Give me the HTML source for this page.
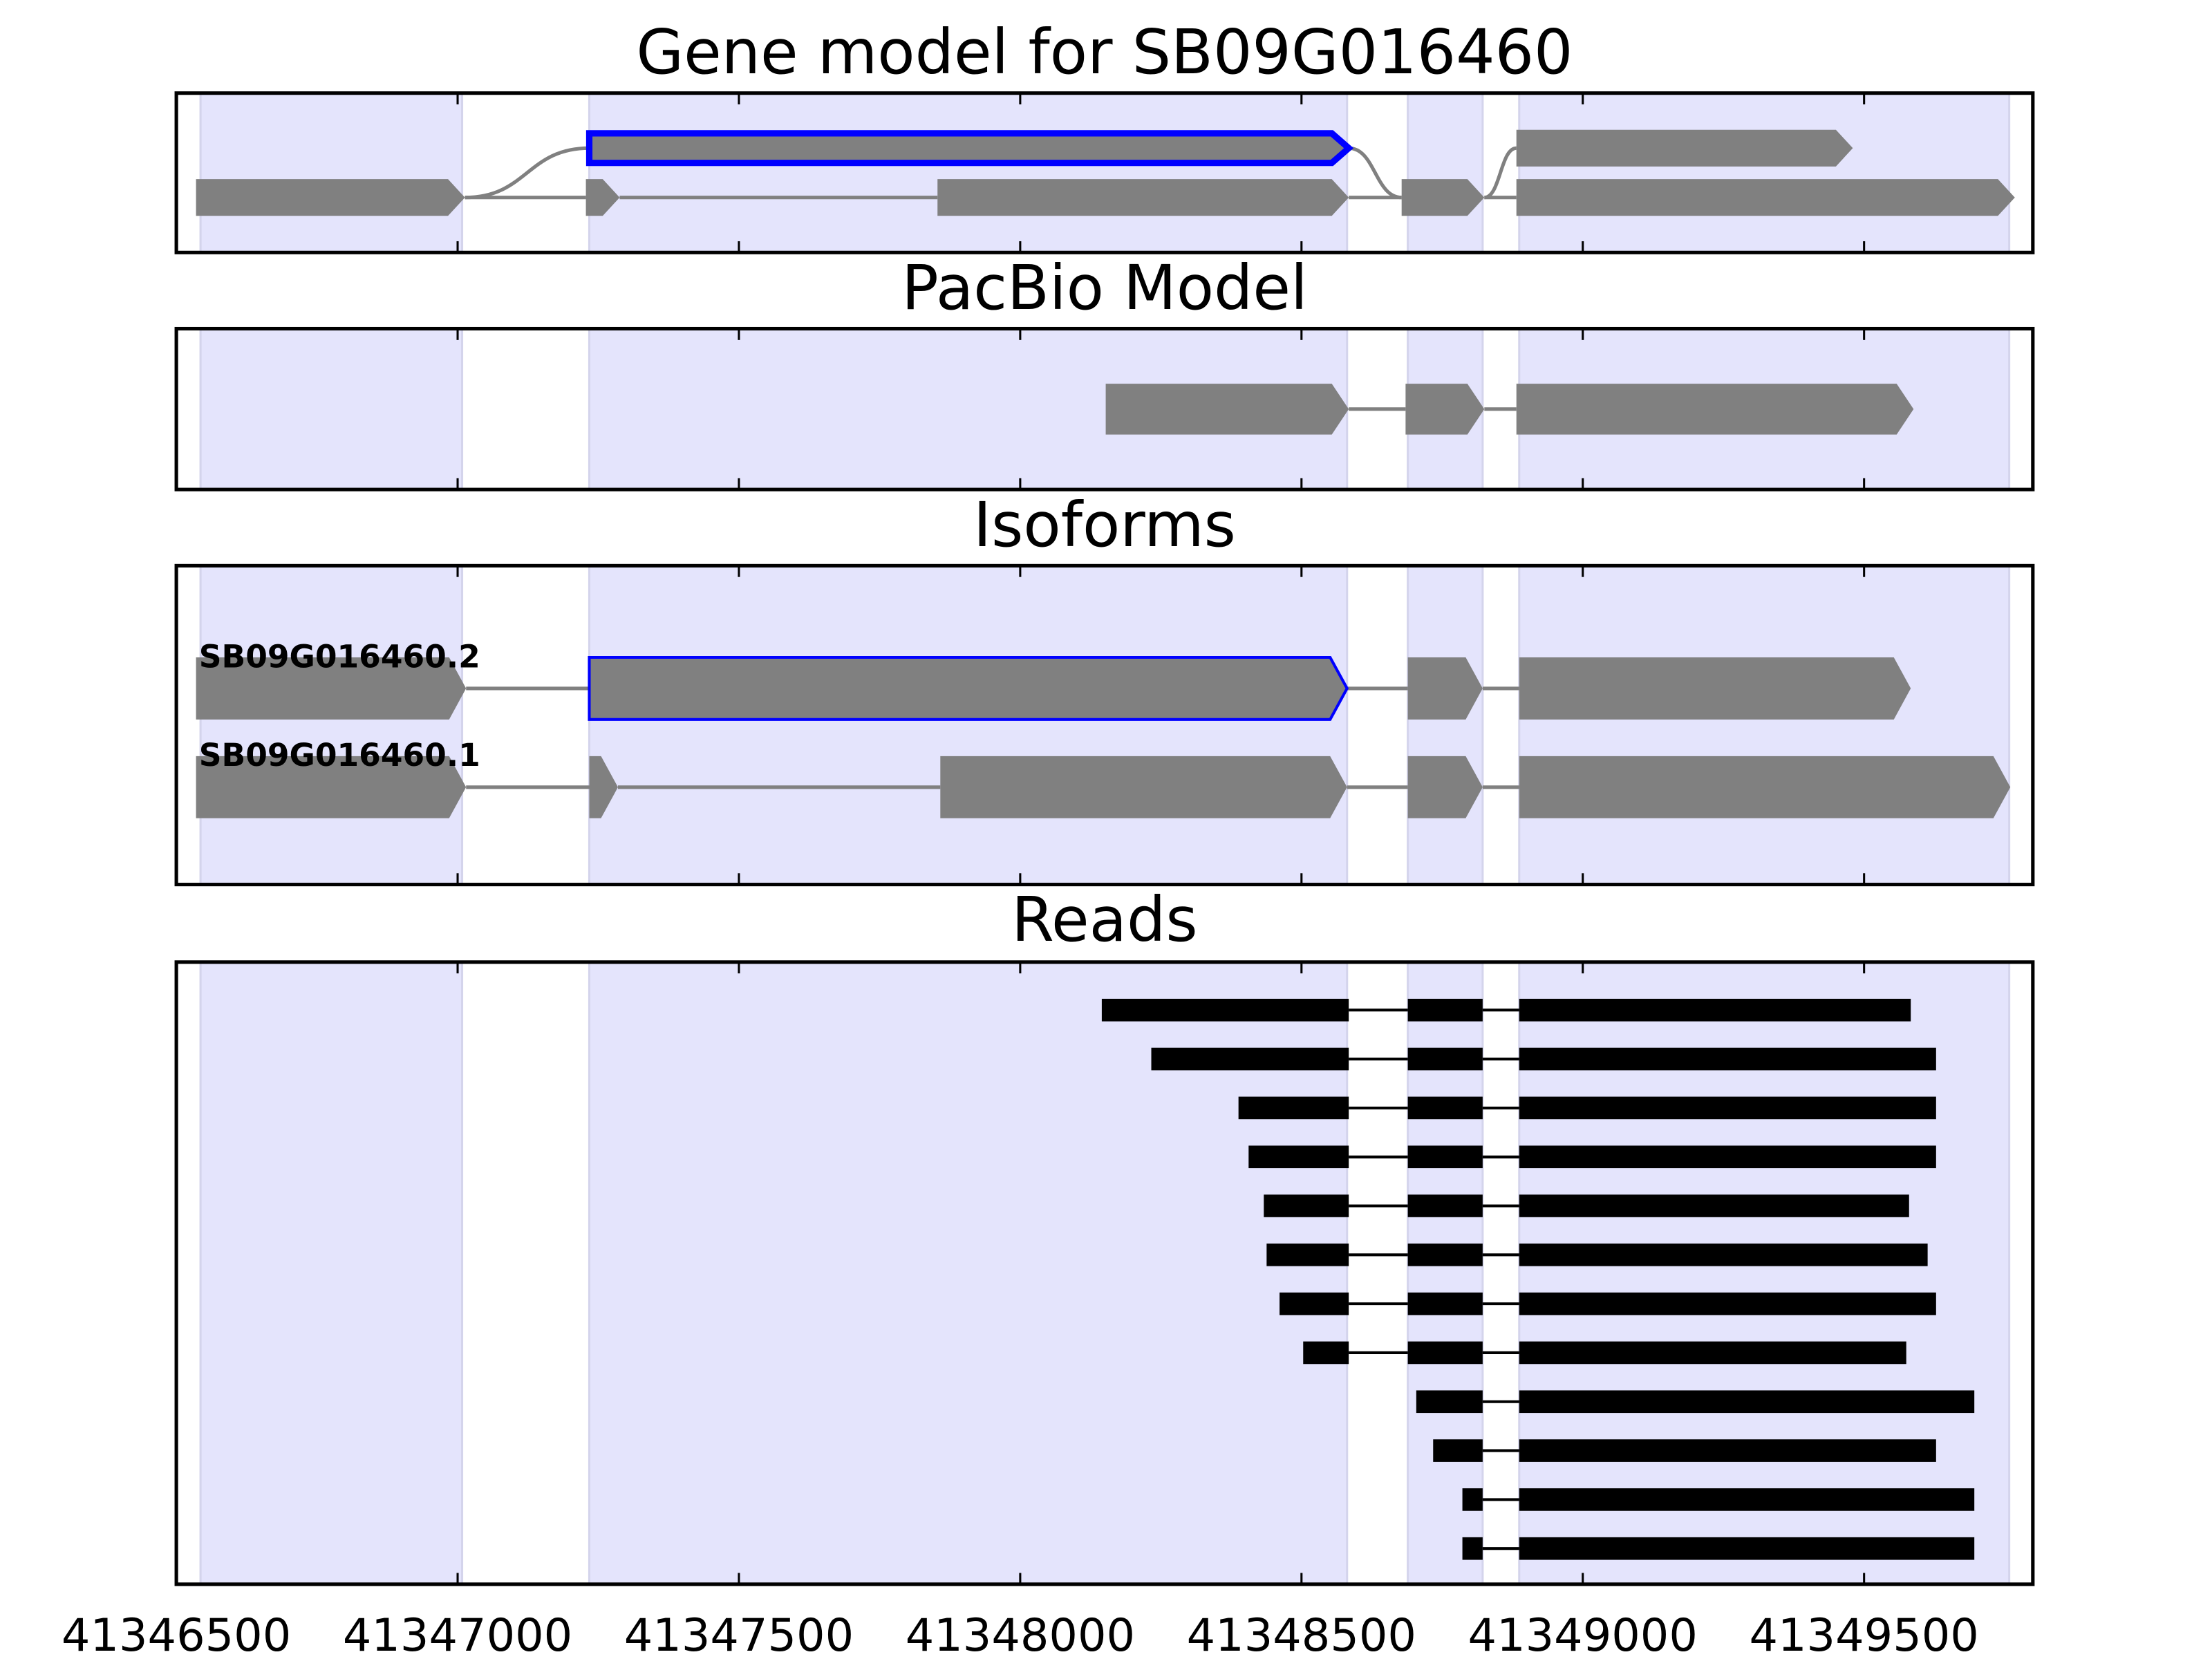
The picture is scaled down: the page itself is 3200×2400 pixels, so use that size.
<!DOCTYPE html>
<html><head><meta charset="utf-8"><style>html,body{margin:0;padding:0;background:#fff}svg{display:block}</style></head>
<body>
<svg id="chart" xmlns="http://www.w3.org/2000/svg" width="3200" height="2400" viewBox="0 0 1568 1176" font-family="DejaVu Sans, Liberation Sans, sans-serif"></svg>
<script>
const xTicks = [41346500, 41347000, 41347500, 41348000, 41348500, 41349000, 41349500];
const exonRegions = [[41346543, 41347008], [41347234, 41348581], [41348689, 41348822], [41348887, 41349758]];
// gene model rows: [start,end]
const modelBottom = [[41346535, 41347013], [41347228, 41347288], [41347853, 41348584], [41348678, 41348825], [41348882, 41349768]];
const modelTop = [[41347234, 41348584], [41348882, 41349480]];
const pacbio = [[41348152, 41348584], [41348685, 41348825], [41348882, 41349588]];
const iso2 = [[41346535, 41347015], [41347234, 41348581], [41348689, 41348822], [41348887, 41349583]];
const iso1 = [[41346535, 41347015], [41347234, 41347285], [41347858, 41348581], [41348689, 41348822], [41348887, 41349760]];
const readStarts = [41348145, 41348233, 41348388, 41348406, 41348433, 41348438, 41348461, 41348503, 41348704, 41348734, 41348786, 41348786];
const readEnds = [41349583, 41349628, 41349628, 41349628, 41349580, 41349613, 41349628, 41349575, 41349696, 41349628, 41349696, 41349696];
const readJunctions = [41348584, 41348689, 41348822, 41348887];

const svg = document.getElementById('chart');
const NS = 'http://www.w3.org/2000/svg';
const X0 = 125, X1 = 1441, D0 = 41346500, D1 = 41349800;
const sx = v => X0 + (v - D0) / (D1 - D0) * (X1 - X0);
function el(tag, attrs, parent) {
  const e = document.createElementNS(NS, tag);
  for (const k in attrs) e.setAttribute(k, attrs[k]);
  (parent || svg).appendChild(e);
  return e;
}
const panels = [
  {name: 'gene-model-panel', title: 'Gene model for SB09G016460', top: 66, bot: 179, ty: 52},
  {name: 'pacbio-panel', title: 'PacBio Model', top: 233, bot: 347, ty: 219},
  {name: 'isoforms-panel', title: 'Isoforms', top: 401, bot: 627, ty: 387},
  {name: 'reads-panel', title: 'Reads', top: 682, bot: 1123, ty: 667}
];
const groups = [];
panels.forEach(p => {
  const g = el('g', {});
  
  
  groups.push(g);
  exonRegions.forEach(r => {
    const rc = el('rect', {x: sx(r[0]), y: p.top, width: sx(r[1]) - sx(r[0]), height: p.bot - p.top, fill: '#e4e4fc', stroke: '#d4d4ec', 'stroke-width': 1.5}, g);
    
    
  });
  const t = el('text', {x: (X0 + X1) / 2, y: p.ty, 'font-size': 43.5, 'text-anchor': 'middle', fill: '#000'}, g);
  t.textContent = p.title;
  
  
});
function arrowExon(s, e, yc, h, parent, fill, stroke, sw) {
  const x0 = sx(s), x1 = sx(e);
  const tip = Math.min(12, (x1 - x0) * 0.8);
  const d = `M${x0},${yc - h / 2} L${x1 - tip},${yc - h / 2} L${x1},${yc} L${x1 - tip},${yc + h / 2} L${x0},${yc + h / 2} Z`;
  const p = el('path', {d: d, fill: fill, stroke: stroke || 'none', 'stroke-width': sw || 0}, parent);
  
  
  return p;
}
function introns(list, yc, parent, col, w) {
  for (let i = 0; i < list.length - 1; i++) {
    const l = el('line', {x1: sx(list[i][1]), y1: yc, x2: sx(list[i + 1][0]), y2: yc, stroke: col, 'stroke-width': w}, parent);
    
    
  }
}
const G = '#808080';
// Panel 1
{
  const g = groups[0];
  introns(modelBottom, 140, g, G, 2.5);
  const curve = (a, ya, b, yb) => {
    const xa = sx(a), xb = sx(b), m = (xa + xb) / 2;
    const c = el('path', {d: `M${xa},${ya} C${m},${ya} ${m},${yb} ${xb},${yb}`, fill: 'none', stroke: G, 'stroke-width': 2.5}, g);
    
    
  };
  curve(modelBottom[0][1], 140, modelTop[0][0], 105);
  curve(modelTop[0][1], 105, modelBottom[3][0], 140);
  curve(modelBottom[3][1], 140, modelTop[1][0], 105);
  modelBottom.forEach(r => arrowExon(r[0], r[1], 140, 26, g, G));
  arrowExon(modelTop[0][0], modelTop[0][1], 105, 21, g, G, '#0000ff', 4.5);
  arrowExon(modelTop[1][0], modelTop[1][1], 105, 26, g, G);
}
// Panel 2
{
  const g = groups[1];
  introns(pacbio, 290, g, G, 2.5);
  pacbio.forEach(r => arrowExon(r[0], r[1], 290, 36, g, G));
}
// Panel 3
{
  const g = groups[2];
  introns(iso2, 488, g, G, 2.5);
  iso2.forEach((r, i) => arrowExon(r[0], r[1], 488, 44, g, G, i === 1 ? '#0000ff' : null, 2));
  introns(iso1, 558, g, G, 2.5);
  iso1.forEach(r => arrowExon(r[0], r[1], 558, 44, g, G));
  [['SB09G016460.2', 473], ['SB09G016460.1', 543]].forEach(a => {
    const t = el('text', {x: 141, y: a[1], 'font-size': 22.3, 'font-weight': 'bold', fill: '#000'}, g);
    t.textContent = a[0];
    
    
  });
}
// Panel 4 reads
{
  const g = groups[3];
  readStarts.forEach((s, i) => {
    const yc = 716 + i * 34.7;
    const e = readEnds[i];
    let blocks;
    if (s < readJunctions[0]) blocks = [[s, readJunctions[0]], [readJunctions[1], readJunctions[2]], [readJunctions[3], e]];
    else blocks = [[s, readJunctions[2]], [readJunctions[3], e]];
    const rg = el('g', {}, g);
    
    
    introns(blocks, yc, rg, '#000', 2);
    blocks.forEach(b => {
      const r = el('rect', {x: sx(b[0]), y: yc - 8, width: sx(b[1]) - sx(b[0]), height: 16, fill: '#000'}, rg);
      
      
    });
  });
}
// Axes frames + ticks
panels.forEach((p, pi) => {
  const g = groups[pi];
  xTicks.forEach(v => {
    const x = sx(v);
    el('line', {x1: x, y1: p.top, x2: x, y2: p.top + 8, stroke: '#000', 'stroke-width': 1.5}, g);
    el('line', {x1: x, y1: p.bot, x2: x, y2: p.bot - 8, stroke: '#000', 'stroke-width': 1.5}, g);
  });
  const fr = el('rect', {x: X0, y: p.top, width: X1 - X0, height: p.bot - p.top, fill: 'none', stroke: '#000', 'stroke-width': 2.5}, g);
  
  
});
xTicks.forEach(v => {
  const t = el('text', {x: sx(v), y: 1170, 'font-size': 32, 'text-anchor': 'middle', fill: '#000'});
  t.textContent = String(v);
  
  
});
</script>
</body></html>
